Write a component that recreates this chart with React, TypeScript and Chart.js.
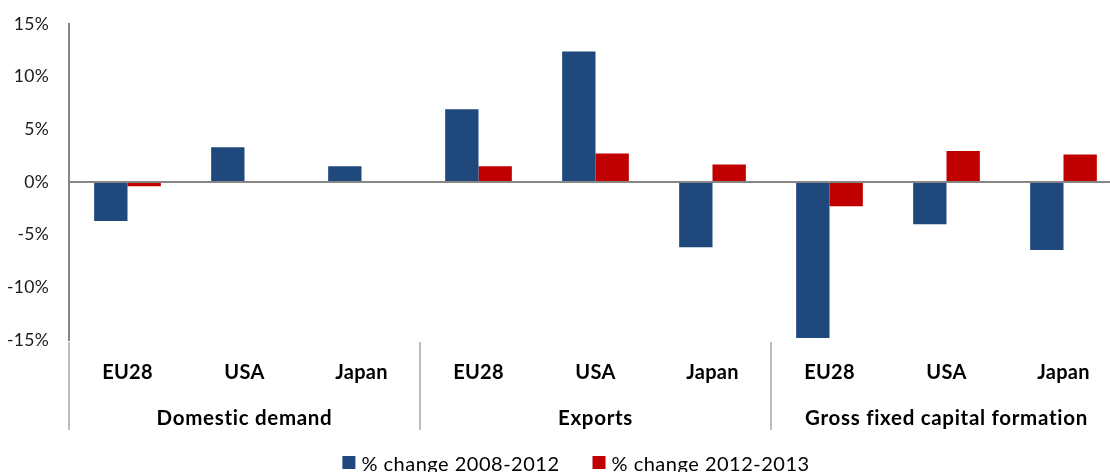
import React, { useEffect, useRef } from 'react';
import { Chart, registerables } from 'chart.js';

Chart.register(...registerables);

const countries = ['EU28', 'USA', 'Japan', 'EU28', 'USA', 'Japan', 'EU28', 'USA', 'Japan'];
const groups = ['Domestic demand', 'Exports', 'Gross fixed capital formation'];
const change2008to2012 = [-3.7, 3.3, 1.5, 6.9, 12.4, -6.2, -14.8, -4.0, -6.45];
const change2012to2013 = [-0.4, 0, 0, 1.5, 2.7, 1.65, -2.3, 2.95, 2.6];
const seriesLabels = ['% change 2008-2012', '% change 2012-2013'];
const seriesColors = ['#1F497D', '#C00000'];
const yMin = -15;
const yMax = 15;
const yStep = 5;

const FONT = 'Lato, "Open Sans", sans-serif';

const overlayPlugin = {
  id: 'overlay',
  beforeDraw(chart: any) {
    chart.ctx.letterSpacing = '0.3px';
  },
  afterDraw(chart: any) {
    const { ctx, chartArea } = chart;
    const x = chart.scales.x;
    ctx.save();
    const half = (x.getPixelForValue(1) - x.getPixelForValue(0)) / 2;
    // group separators
    ctx.strokeStyle = '#a6a6a6';
    ctx.lineWidth = 1.5;
    for (let g = 0; g <= groups.length; g++) {
      const px = g === 0 ? chartArea.left : x.getPixelForValue(g * 3) - half;
      ctx.beginPath();
      ctx.moveTo(px, chartArea.bottom + 2);
      ctx.lineTo(px, chartArea.bottom + 90);
      ctx.stroke();
    }
    // group labels
    ctx.letterSpacing = '0.7px';
    ctx.font = `bold 20.5px ${FONT}`;
    ctx.fillStyle = '#000';
    ctx.textAlign = 'center';
    ctx.textBaseline = 'alphabetic';
    groups.forEach((g, i) => {
      const cx = x.getPixelForValue(i * 3 + 1);
      ctx.fillText(g, cx, chartArea.bottom + 85);
    });
    // legend
    ctx.letterSpacing = '0.5px';
    ctx.font = `20px ${FONT}`;
    ctx.textAlign = 'left';
    const box = 13;
    const gapBox = 6;
    const gapItem = 33;
    const widths = seriesLabels.map((l) => ctx.measureText(l).width);
    let total = 0;
    widths.forEach((w, i) => {
      total += box + gapBox + w + (i < widths.length - 1 ? gapItem : 0);
    });
    let cur = chart.width / 2 - total / 2;
    const baseY = 471;
    seriesLabels.forEach((l, i) => {
      ctx.fillStyle = seriesColors[i];
      ctx.fillRect(cur, 456, box, box);
      ctx.fillStyle = '#000';
      ctx.fillText(l, cur + box + gapBox, baseY);
      cur += box + gapBox + widths[i] + gapItem;
    });
    ctx.restore();
  },
};

export default function App() {
  const canvasRef = useRef<HTMLCanvasElement | null>(null);

  useEffect(() => {
    if (!canvasRef.current) return;
    const chart = new Chart(canvasRef.current, {
      type: 'bar',
      data: {
        labels: countries,
        datasets: [
          {
            label: seriesLabels[0],
            data: change2008to2012,
            backgroundColor: seriesColors[0],
            borderWidth: 0,
            categoryPercentage: 0.57,
            barPercentage: 1.0,
          },
          {
            label: seriesLabels[1],
            data: change2012to2013,
            backgroundColor: seriesColors[1],
            borderWidth: 0,
            categoryPercentage: 0.57,
            barPercentage: 1.0,
          },
        ],
      },
      options: {
        responsive: true,
        maintainAspectRatio: false,
        animation: false,
        layout: { padding: { top: 24, left: 0, right: 30, bottom: 0 } },
        plugins: {
          legend: { display: false },
          tooltip: { enabled: false },
          title: { display: false },
        },
        scales: {
          x: {
            grid: { display: false, drawTicks: false },
            border: { display: false },
            ticks: {
              color: '#000',
              font: { family: FONT, size: 20, weight: 'bold' },
              padding: 21,
              maxRotation: 0,
              autoSkip: false,
            },
            afterFit(scale: any) {
              scale.height = 132;
            },
          },
          y: {
            min: yMin,
            max: yMax,
            ticks: {
              stepSize: yStep,
              color: '#1a1a1a',
              font: { family: FONT, size: 17.5 },
              padding: 10,
              callback: (v: any) => `${v}%`,
            },
            grid: {
              drawTicks: true,
              tickLength: 10,
              tickColor: 'rgba(0,0,0,0)',
              lineWidth: 2,
              color: (c: any) => (c.tick && c.tick.value === 0 ? '#868686' : 'rgba(0,0,0,0)'),
            },
            border: { color: '#868686', width: 2 },
            afterFit(scale: any) {
              scale.width = 69;
            },
          },
        },
      },
      plugins: [overlayPlugin],
    });
    return () => chart.destroy();
  }, []);

  return (
    <div style={{ position: 'fixed', left: 0, top: 0, width: 1110, height: 472, overflow: 'hidden', background: '#fff' }}>
      <div style={{ position: 'relative', width: 1152, height: 472 }}>
        <canvas ref={canvasRef} />
      </div>
    </div>
  );
}
